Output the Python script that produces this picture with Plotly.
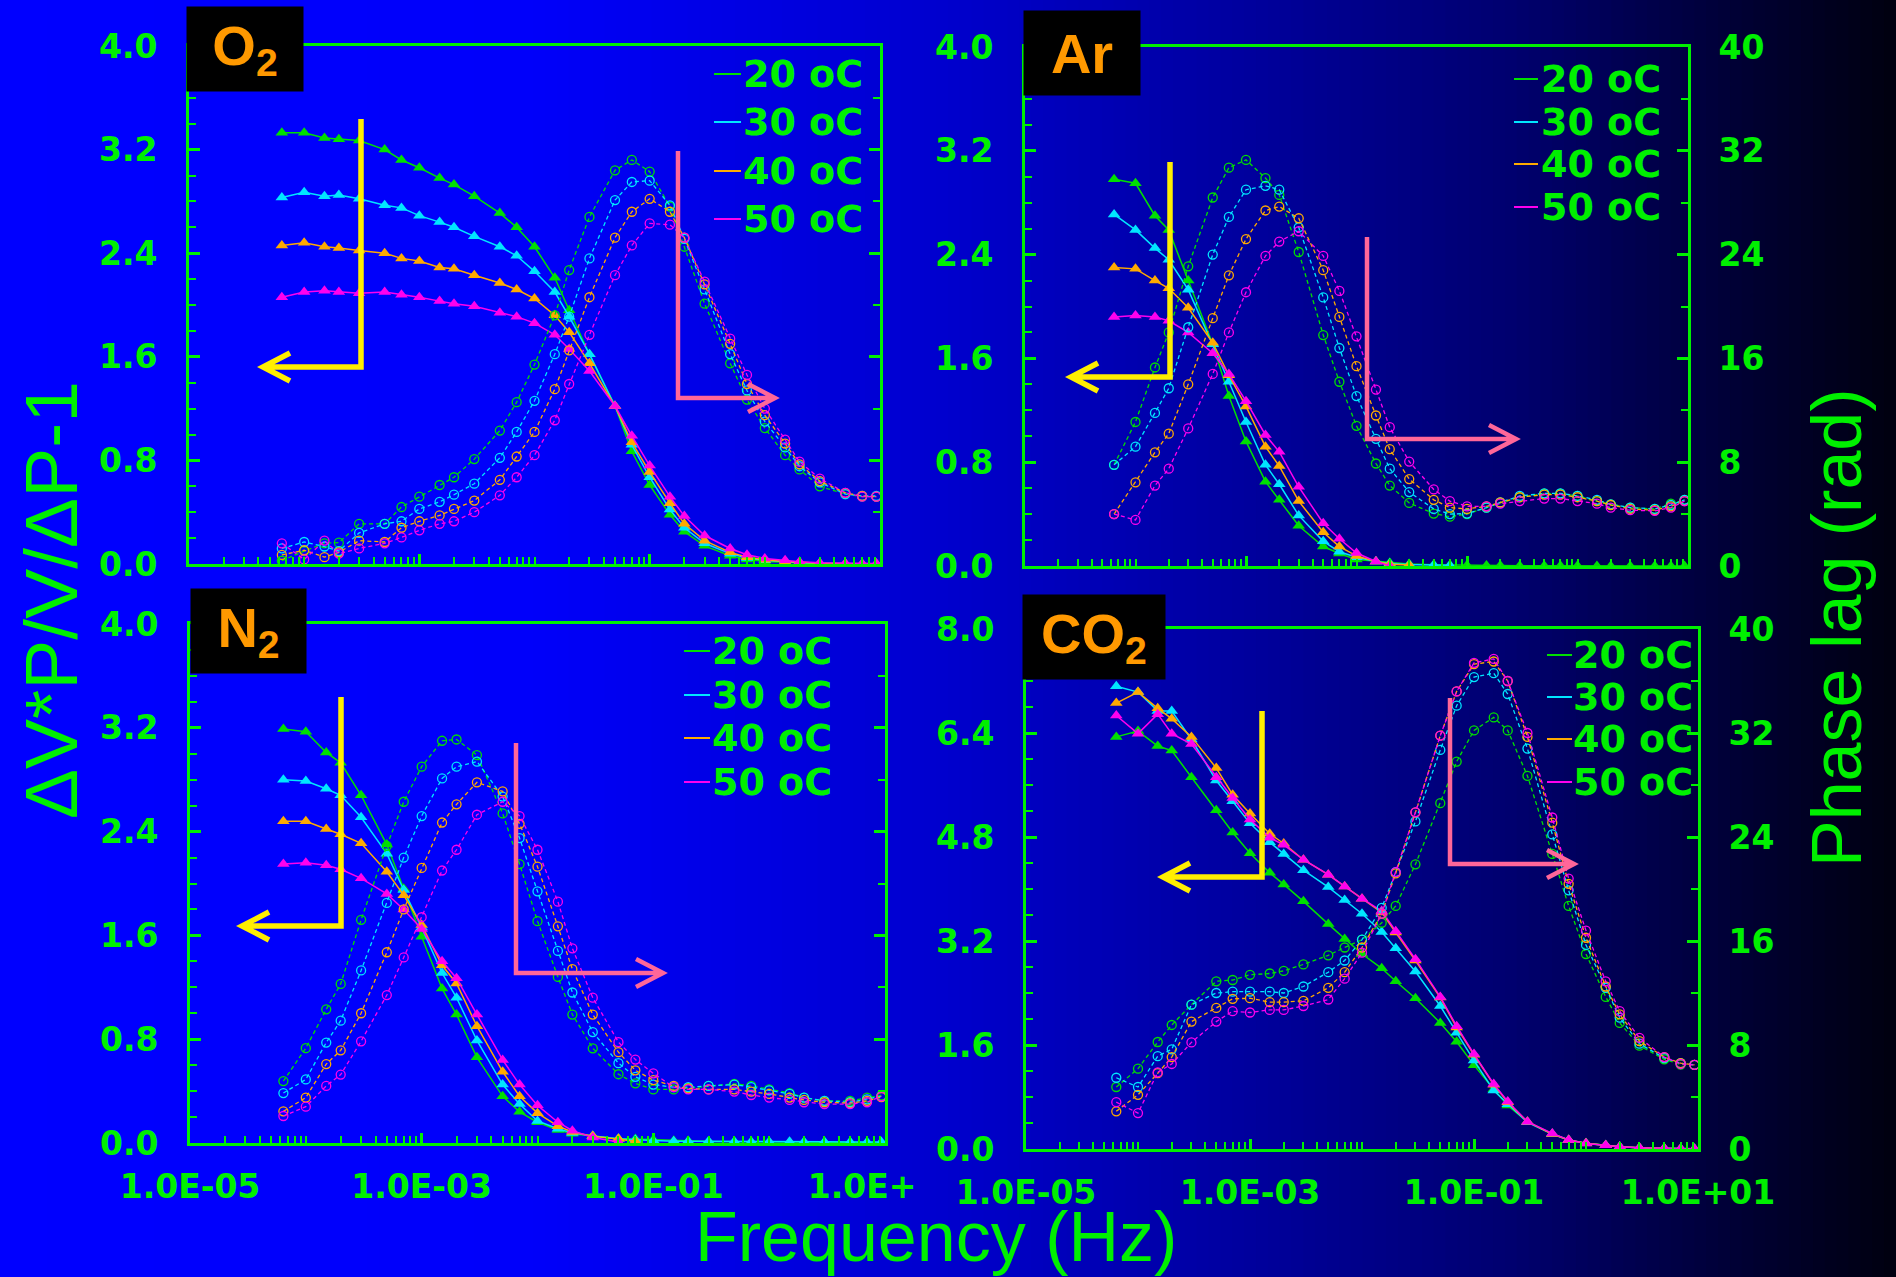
import plotly.graph_objects as go

W, H = 1896, 1277

# ---------------- data ----------------
FREQ = [6.4e-5, 1e-4, 1.5e-4, 2e-4, 3e-4, 5e-4, 7e-4, 1e-3, 1.5e-3, 2e-3, 3e-3, 5e-3,
        7e-3, 1e-2, 1.5e-2, 2e-2, 3e-2, 5e-2, 7e-2, 0.1, 0.15, 0.2, 0.3, 0.5, 0.7, 1,
        1.5, 2, 3, 5, 7, 9.3]

TEMPS = ["20 oC", "30 oC", "40 oC", "50 oC"]
GASES = ["O<sub>2</sub>", "Ar", "N<sub>2</sub>", "CO<sub>2</sub>"]

X_TICKS = [1e-5, 1e-3, 1e-1, 1e1]
X_TEXT_N2 = ["1.0E-05", "1.0E-03", "1.0E-01", "1.0E+\u00a0\u00a0\u00a0\u00a0"]
X_TEXT_CO2 = ["1.0E-05", "1.0E-03", "1.0E-01", "1.0E+01"]

# O2 : amplitude (left axis) and phase lag (right axis)
O2_AMP_20 = [3.33, 3.33, 3.29, 3.28, 3.27, 3.20, 3.12, 3.06, 2.98, 2.93, 2.84, 2.71, 2.60, 2.45, 2.21, 1.96,
             1.62, 1.22, 0.87, 0.61, 0.38, 0.25, 0.14, 0.064, 0.035, 0.02, 0.014, 0.007, 0.004, 0.002, 0.0, 0.0]
O2_AMP_30 = [2.83, 2.87, 2.84, 2.85, 2.82, 2.77, 2.75, 2.69, 2.64, 2.60, 2.53, 2.45, 2.38, 2.26, 2.10, 1.91,
             1.62, 1.22, 0.92, 0.67, 0.42, 0.28, 0.16, 0.08, 0.046, 0.028, 0.018, 0.01, 0.005, 0.002, 0.0, 0.0]
O2_AMP_40 = [2.46, 2.48, 2.45, 2.44, 2.42, 2.40, 2.36, 2.34, 2.29, 2.28, 2.23, 2.17, 2.12, 2.05, 1.92, 1.79,
             1.55, 1.22, 0.94, 0.71, 0.47, 0.31, 0.18, 0.09, 0.053, 0.032, 0.02, 0.012, 0.006, 0.002, 0.0, 0.0]
O2_AMP_50 = [2.06, 2.10, 2.11, 2.10, 2.09, 2.10, 2.08, 2.06, 2.03, 2.01, 1.99, 1.94, 1.91, 1.86, 1.77, 1.66,
             1.49, 1.22, 0.99, 0.76, 0.52, 0.37, 0.22, 0.12, 0.071, 0.043, 0.028, 0.018, 0.01, 0.006, 0.004, 0.004]
O2_PH_20 = [0.25, 1.0, 1.6, 1.65, 3.1, 3.1, 4.4, 5.2, 6.1, 6.7, 8.1, 10.3, 12.5, 15.4, 19.2, 22.7,
            26.8, 30.4, 31.2, 30.3, 27.6, 24.5, 20.1, 15.5, 12.7, 10.5, 8.4, 7.3, 6.0, 5.4, 5.2, 5.2]
O2_PH_30 = [1.2, 1.7, 1.35, 1.0, 2.4, 3.1, 3.3, 4.25, 4.8, 5.35, 6.2, 8.2, 10.2, 12.6, 16.2, 19.1,
            23.6, 28.1, 29.5, 29.6, 27.7, 25.1, 21.2, 16.2, 13.4, 11.0, 9.0, 7.55, 6.3, 5.4, 5.25, 5.25]
O2_PH_40 = [0.7, 1.06, 0.53, 0.9, 1.8, 1.7, 2.8, 3.3, 3.75, 4.25, 4.9, 6.5, 8.3, 10.2, 13.5, 16.5,
            20.6, 25.2, 27.2, 28.2, 27.2, 25.2, 21.6, 17.0, 13.9, 11.5, 9.3, 7.7, 6.4, 5.5, 5.25, 5.2]
O2_PH_50 = [1.6, 0.35, 1.8, 0.8, 1.2, 1.6, 2.05, 2.6, 3.1, 3.3, 4.0, 5.3, 6.7, 8.4, 11.1, 13.9,
            17.7, 22.3, 24.6, 26.3, 26.2, 25.2, 21.8, 17.4, 14.6, 12.0, 9.6, 7.9, 6.6, 5.5, 5.2, 5.2]

# Ar  (None = no point shown)
AR_AMP_20 = [2.98, 2.95, 2.70, 2.59, 2.20, 1.71, 1.31, 0.96, 0.65, 0.51, 0.31, 0.15, 0.096, 0.05, 0.035, 0.025,
             0.015, 0.01, 0.008, 0.005, 0.004, 0.003, 0.002, 0.002, 0.001, 0.001, 0.0, 0.0, 0.0, 0.0, 0.0, 0.0]
AR_AMP_30 = [2.71, 2.59, 2.45, 2.36, 2.13, 1.71, 1.42, 1.11, 0.78, 0.63, 0.39, 0.19, 0.11, 0.067, 0.035, 0.02,
             0.012, 0.008, 0.006, None, None, None, None, None, None, None, None, None, None, None, None, None]
AR_AMP_40 = [2.30, 2.29, 2.20, 2.14, 1.99, 1.72, 1.47, 1.23, 0.92, 0.77, 0.50, 0.26, 0.15, 0.078, 0.035, 0.014,
             0.008, None, None, None, None, None, None, None, None, None, None, None, None, None, None, None]
AR_AMP_50 = [1.92, 1.93, 1.92, 1.89, 1.80, 1.64, 1.48, 1.27, 1.01, 0.88, 0.61, 0.33, 0.21, 0.10, 0.035, 0.0,
             None, None, None, None, None, None, None, None, None, None, None, None, None, None, None, None]
AR_PH_20 = [7.8, 11.1, 15.3, 18.0, 23.1, 28.4, 30.7, 31.3, 29.9, 28.6, 24.2, 17.8, 14.2, 10.8, 7.9, 6.2,
            4.86, 4.04, 3.8, 4.0, 4.5, 4.86, 5.3, 5.57, 5.57, 5.4, 5.0, 4.75, 4.5, 4.4, 4.8, 5.1]
AR_PH_30 = [7.8, 9.2, 11.8, 13.7, 18.4, 24.0, 26.9, 29.0, 29.3, 29.0, 26.1, 20.7, 16.8, 13.1, 9.8, 7.5,
            5.7, 4.4, 4.0, 4.04, 4.5, 4.9, 5.4, 5.6, 5.6, 5.4, 5.1, 4.75, 4.5, 4.4, 4.7, 5.1]
AR_PH_40 = [4.0, 6.45, 8.76, 10.2, 14.0, 19.1, 22.4, 25.2, 27.4, 27.7, 26.8, 22.8, 19.2, 15.4, 11.6, 9.0,
            6.7, 5.1, 4.5, 4.4, 4.6, 4.9, 5.3, 5.5, 5.5, 5.3, 5.0, 4.7, 4.4, 4.3, 4.6, 5.0]
AR_PH_50 = [4.0, 3.55, 6.2, 7.5, 10.6, 14.8, 18.0, 21.1, 23.9, 25.0, 25.8, 23.9, 21.2, 17.7, 13.6, 10.7,
            8.05, 5.9, 5.0, 4.6, 4.6, 4.8, 5.0, 5.2, 5.2, 5.0, 4.8, 4.5, 4.3, 4.25, 4.5, 5.0]

# N2
N2_AMP_20 = [3.19, 3.17, 3.01, 2.93, 2.68, 2.30, 1.96, 1.59, 1.19, 0.99, 0.66, 0.36, 0.24, 0.16, 0.10, 0.071,
             0.053, 0.032, 0.03, 0.025, 0.018, 0.015, 0.012, 0.01, 0.01, 0.008, 0.008, 0.006, 0.006, 0.005, 0.004, 0.004]
N2_AMP_30 = [2.80, 2.79, 2.73, 2.68, 2.51, 2.23, 1.95, 1.66, 1.31, 1.12, 0.79, 0.45, 0.30, 0.17, 0.11, 0.078,
             0.053, 0.032, 0.025, 0.018, 0.014, 0.014, 0.014, 0.012, 0.01, 0.01, 0.01, 0.01, 0.01, 0.008, 0.008, 0.008]
N2_AMP_40 = [2.48, 2.48, 2.42, 2.38, 2.31, 2.09, 1.91, 1.68, 1.37, 1.23, 0.90, 0.55, 0.36, 0.23, 0.13, 0.085,
             0.053, 0.032, 0.014, None, None, None, None, None, None, None, None, None, None, None, None, None]
N2_AMP_50 = [2.15, 2.16, 2.14, 2.11, 2.04, 1.92, 1.80, 1.65, 1.40, 1.27, 0.99, 0.64, 0.45, 0.29, 0.16, 0.095,
             0.042, 0.007, None, None, None, None, None, None, None, None, None, None, None, None, None, None]
N2_PH_20 = [4.77, 7.31, 10.3, 12.26, 17.2, 22.9, 26.3, 29.0, 31.0, 31.1, 29.9, 25.4, 21.5, 17.1, 12.8, 9.9,
            7.3, 5.3, 4.6, 4.13, 4.13, 4.24, 4.4, 4.56, 4.4, 4.13, 3.85, 3.5, 3.25, 3.25, 3.5, 3.67]
N2_PH_30 = [3.85, 4.9, 7.74, 9.43, 13.3, 18.5, 22.0, 25.2, 28.1, 29.0, 29.4, 26.7, 23.5, 19.4, 14.8, 11.6,
            8.55, 6.15, 5.1, 4.5, 4.3, 4.3, 4.4, 4.5, 4.3, 4.06, 3.78, 3.5, 3.25, 3.14, 3.36, 3.6]
N2_PH_40 = [2.44, 3.5, 6.08, 7.14, 10.0, 14.7, 18.0, 21.2, 24.7, 26.1, 27.8, 27.1, 24.6, 21.3, 16.7, 13.4,
            9.9, 7.0, 5.6, 4.84, 4.4, 4.2, 4.13, 4.13, 3.96, 3.78, 3.5, 3.32, 3.14, 3.07, 3.25, 3.53]
N2_PH_50 = [2.08, 2.8, 4.4, 5.27, 7.84, 11.4, 14.3, 17.4, 21.0, 22.6, 25.3, 26.3, 25.2, 22.6, 18.6, 15.0,
            11.2, 7.77, 6.43, 5.37, 4.3, 4.13, 4.13, 3.96, 3.7, 3.5, 3.32, 3.14, 3.0, 3.0, 3.14, 3.6]

# CO2
CO2_AMP_20 = [6.34, 6.43, 6.20, 6.13, 5.72, 5.21, 4.87, 4.55, 4.25, 4.07, 3.81, 3.46, 3.23, 3.00, 2.78, 2.58,
              2.32, 1.94, 1.65, 1.29, 0.92, 0.67, 0.42, 0.23, 0.14, 0.085, 0.056, 0.035, 0.014, 0.01, 0.007, 0.005]
CO2_AMP_30 = [7.12, 7.03, 6.74, 6.74, 6.30, 5.67, 5.35, 5.01, 4.72, 4.54, 4.29, 4.03, 3.83, 3.62, 3.34, 3.09,
              2.73, 2.20, 1.79, 1.36, 0.90, 0.69, 0.41, 0.23, 0.14, 0.09, 0.056, 0.035, 0.02, 0.01, 0.005, 0.003]
CO2_AMP_40 = [6.86, 7.03, 6.78, 6.62, 6.34, 5.86, 5.45, 5.16, 4.85, 4.70, 4.45, 4.22, 4.04, 3.85, 3.64, 3.33,
              2.90, 2.33, 1.87, 1.45, 0.99, 0.72, 0.42, 0.23, 0.14, 0.09, 0.056, 0.035, 0.02, 0.01, 0.005, 0.0]
CO2_AMP_50 = [6.67, 6.39, 6.69, 6.39, 6.23, 5.72, 5.40, 5.07, 4.79, 4.68, 4.45, 4.22, 4.04, 3.85, 3.66, 3.35,
              2.92, 2.34, 1.89, 1.46, 1.00, 0.73, 0.42, 0.24, 0.14, 0.085, 0.056, 0.035, 0.02, 0.01, 0.005, 0.0]
CO2_PH_20 = [4.77, 6.18, 8.23, 9.54, 11.1, 12.9, 13.0, 13.4, 13.5, 13.7, 14.2, 14.9, 15.5, 16.1, 17.4, 18.7,
             21.9, 26.6, 29.8, 32.2, 33.2, 32.2, 28.7, 22.7, 18.7, 15.0, 11.7, 9.7, 7.95, 6.9, 6.5, 6.47]
CO2_PH_30 = [5.48, 4.77, 7.14, 7.67, 11.1, 12.0, 12.1, 12.1, 12.1, 12.0, 12.5, 13.6, 14.5, 16.1, 18.55, 21.3,
             25.2, 30.7, 34.1, 36.3, 36.6, 35.0, 30.8, 24.2, 19.9, 15.7, 12.4, 10.1, 8.1, 7.0, 6.6, 6.47]
CO2_PH_40 = [2.9, 4.17, 5.83, 7.07, 9.8, 10.85, 11.55, 11.6, 11.3, 11.3, 11.4, 12.4, 13.6, 15.5, 18.1, 21.2,
             25.9, 31.8, 35.2, 37.3, 37.5, 36.0, 31.7, 25.1, 20.4, 16.25, 12.5, 10.35, 8.3, 7.07, 6.6, 6.47]
CO2_PH_50 = [3.6, 2.76, 5.9, 6.54, 8.2, 9.8, 10.6, 10.5, 10.7, 10.7, 11.0, 11.5, 13.1, 15.1, 18.1, 21.3,
             25.9, 31.8, 35.2, 37.4, 37.7, 36.0, 32.0, 25.5, 20.8, 16.8, 12.9, 10.6, 8.55, 7.07, 6.54, 6.47]

# ---------------- style ----------------
GREEN = "#00F000"
SERIES_COLORS = ["#00E000", "#00E6FF", "#FFAA00", "#FF00EE"]
YELLOW = "#FFEE00"
PINK = "#FF6699"
ORANGE_TXT = "#FF9900"


def fx(px):
    return px / W


def fy(py):
    return 1 - py / H


panels = [
    dict(amp=[O2_AMP_20, O2_AMP_30, O2_AMP_40, O2_AMP_50], ph=[O2_PH_20, O2_PH_30, O2_PH_40, O2_PH_50],
         box=(189, 880, 46, 564), ymax=4.0, ydt=0.8, ymin=0.2, xlabels=None, rlabels=False,
         label_c=(245, 48.5), label_w=114,
         leg_line=(714, 741), leg_text=744, leg_rows=[74, 122, 171, 219],
         yarrow=[(361, 119), (361, 367), (263, 367)], parrow=[(678, 151), (678, 398), (775, 398)]),
    dict(amp=[AR_AMP_20, AR_AMP_30, AR_AMP_40, AR_AMP_50], ph=[AR_PH_20, AR_PH_30, AR_PH_40, AR_PH_50],
         box=(1025, 1688, 47, 566), ymax=4.0, ydt=0.8, ymin=0.2, xlabels=None, rlabels=True,
         label_c=(1082, 53), label_w=114,
         leg_line=(1514, 1538), leg_text=1542, leg_rows=[79, 122, 164, 207],
         yarrow=[(1170, 162), (1170, 377), (1071, 377)], parrow=[(1367, 237), (1367, 439), (1516, 439)]),
    dict(amp=[N2_AMP_20, N2_AMP_30, N2_AMP_40, N2_AMP_50], ph=[N2_PH_20, N2_PH_30, N2_PH_40, N2_PH_50],
         box=(190, 885, 624, 1143), ymax=4.0, ydt=0.8, ymin=0.2, xlabels=X_TEXT_N2, rlabels=False,
         label_c=(248.5, 631), label_w=113,
         leg_line=(684, 710), leg_text=713, leg_rows=[651, 695, 738, 782],
         yarrow=[(341, 697), (341, 926), (242, 926)], parrow=[(516, 743), (516, 973), (663, 973)]),
    dict(amp=[CO2_AMP_20, CO2_AMP_30, CO2_AMP_40, CO2_AMP_50], ph=[CO2_PH_20, CO2_PH_30, CO2_PH_40, CO2_PH_50],
         box=(1026, 1698, 629, 1149), ymax=8.0, ydt=1.6, ymin=0.4, xlabels=X_TEXT_CO2, rlabels=True,
         label_c=(1094, 636.5), label_w=140,
         leg_line=(1547, 1572), leg_text=1574, leg_rows=[655, 697, 739, 782],
         yarrow=[(1262, 711), (1262, 877), (1163, 877)], parrow=[(1450, 698), (1450, 864), (1574, 864)]),
]

MINOR_X = [m * 10.0 ** e for e in range(-5, 1) for m in range(2, 10)] + [1e-4, 1e-2, 1e0]
TICKFONT = dict(family="DejaVu Sans", size=33, color=GREEN, weight="bold")
LEGFONT = dict(family="DejaVu Sans", size=38, color=GREEN, weight="bold")

fig = go.Figure()
layout = dict(width=W, height=H, margin=dict(l=0, r=0, t=0, b=0, pad=0, autoexpand=False),
              paper_bgcolor="#0000FF", plot_bgcolor="rgba(0,0,0,0)", showlegend=False)
annotations = []
shapes = []

# background gradient (left bright blue -> right near black)
stops = [(0.0, 255), (0.28, 250), (0.5, 205), (0.65, 160), (0.8, 110), (0.9, 60), (1.0, 15)]


def blue_at(t):
    for (t0, b0), (t1, b1) in zip(stops[:-1], stops[1:]):
        if t <= t1:
            return b0 + (b1 - b0) * (t - t0) / (t1 - t0)
    return stops[-1][1]


NSTRIP = 160
for i in range(NSTRIP):
    t0, t1 = i / NSTRIP, (i + 1) / NSTRIP
    b = int(round(blue_at((t0 + t1) / 2)))
    shapes.append(dict(type="rect", xref="paper", yref="paper", x0=t0, x1=min(1.0, t1 + 0.002), y0=0, y1=1,
                       fillcolor=f"rgb(0,0,{b})", line=dict(width=0), layer="below"))

for k, p in enumerate(panels):
    xa = "x" if k == 0 else f"x{k + 1}"
    yl = "y" if k == 0 else f"y{2 * k + 1}"
    yr = f"y{2 * k + 2}"
    xkey = "xaxis" if k == 0 else f"xaxis{k + 1}"
    ylkey = "yaxis" if k == 0 else f"yaxis{2 * k + 1}"
    yrkey = f"yaxis{2 * k + 2}"
    l, r, t, b = p["box"]

    for i in range(4):
        c = SERIES_COLORS[i]
        fig.add_trace(go.Scatter(x=FREQ, y=p["ph"][i], mode="lines+markers", xaxis=xa, yaxis=yr,
                                 name=TEMPS[i], line=dict(color=c, width=1.3, dash="4px,3px"),
                                 marker=dict(symbol="circle-open", size=9, color=c, line=dict(width=1.3, color=c)),
                                 showlegend=False, cliponaxis=False, hoverinfo="skip"))
    for i in range(4):
        c = SERIES_COLORS[i]
        fig.add_trace(go.Scatter(x=FREQ, y=p["amp"][i], mode="lines+markers", xaxis=xa, yaxis=yl,
                                 name=TEMPS[i], line=dict(color=c, width=1.5),
                                 marker=dict(symbol="triangle-up", size=11, color=c, line=dict(width=0)),
                                 showlegend=False, cliponaxis=False, hoverinfo="skip"))

    # legend block: short coloured line + green label
    lx0, lx1 = p["leg_line"]
    for i, row in enumerate(p["leg_rows"]):
        shapes.append(dict(type="line", xref="paper", yref="paper", x0=fx(lx0), x1=fx(lx1),
                           y0=fy(row), y1=fy(row), line=dict(color=SERIES_COLORS[i], width=2), layer="above"))
        annotations.append(dict(x=fx(p["leg_text"] - 2), y=fy(row), xref="paper", yref="paper",
                                text=TEMPS[i], showarrow=False, xanchor="left", yanchor="middle",
                                font=LEGFONT, borderpad=0))

    xaxis = dict(type="log", range=[-5, 1], domain=[fx(l), fx(r)], anchor=yl, automargin=False,
                 showline=True, mirror=True, linecolor=GREEN, linewidth=3,
                 ticks="inside", ticklen=10, tickwidth=2.5, tickcolor=GREEN,
                 tickmode="array", tickvals=X_TICKS, showgrid=False, zeroline=False,
                 minor=dict(tickmode="array", tickvals=MINOR_X, ticks="inside", ticklen=7,
                            tickwidth=2, tickcolor=GREEN, showgrid=False),
                 tickfont=TICKFONT, ticklabelstandoff=12)
    if p["xlabels"] is None:
        xaxis["showticklabels"] = False
        xaxis["ticktext"] = ["1.0E-05", "1.0E-03", "1.0E-01", "1.0E+01"]
    else:
        xaxis["ticktext"] = p["xlabels"]
    layout[xkey] = xaxis

    layout[ylkey] = dict(domain=[fy(b), fy(t)], anchor=xa, range=[0, p["ymax"]], tick0=0, dtick=p["ydt"],
                         automargin=False, tickformat=".1f", showline=True, linecolor=GREEN, linewidth=3,
                         ticks="inside", ticklen=11, tickwidth=2.5, tickcolor=GREEN,
                         minor=dict(dtick=p["ymin"], ticks="inside", ticklen=7, tickwidth=2,
                                    tickcolor=GREEN, showgrid=False),
                         showgrid=False, zeroline=False, tickfont=TICKFONT, ticklabelstandoff=22)
    layout[yrkey] = dict(overlaying=yl, side="right", anchor=xa, range=[0, 40], tick0=0, dtick=8,
                         automargin=False, showline=True, linecolor=GREEN, linewidth=3,
                         ticks="inside", ticklen=11, tickwidth=2.5, tickcolor=GREEN,
                         minor=dict(dtick=4, ticks="inside", ticklen=7, tickwidth=2,
                                    tickcolor=GREEN, showgrid=False),
                         showgrid=False, zeroline=False, tickfont=TICKFONT, ticklabelstandoff=21,
                         showticklabels=p["rlabels"])

    # gas label box
    cx, cy = p["label_c"]
    annotations.append(dict(x=fx(cx), y=fy(cy), xref="paper", yref="paper", showarrow=False,
                            text=f"<b>{GASES[k]}</b>", bgcolor="#000000", width=p["label_w"], height=82,
                            font=dict(family="Liberation Sans", size=56, color=ORANGE_TXT),
                            xanchor="center", yanchor="middle"))

    # axis-indicator arrows
    for pts, col, lw in ((p["yarrow"], YELLOW, 5.5), (p["parrow"], PINK, 4.5)):
        (x0, y0), (x1, y1), (x2, y2) = pts
        d = 1 if x2 > x1 else -1
        path = (f"M {fx(x0)},{fy(y0)} L {fx(x1)},{fy(y1)} L {fx(x2)},{fy(y2)} "
                f"M {fx(x2 - d * 27)},{fy(y2 - 14)} L {fx(x2)},{fy(y2)} L {fx(x2 - d * 27)},{fy(y2 + 14)}")
        shapes.append(dict(type="path", xref="paper", yref="paper", path=path,
                           line=dict(color=col, width=lw), layer="above"))

# axis titles
TITLE_FONT = dict(family="Liberation Sans", size=70, color=GREEN)
annotations.append(dict(x=fx(51), y=fy(600), xref="paper", yref="paper", text="ΔV*P/V/ΔP-1",
                        textangle=-90, showarrow=False, font=dict(family="Liberation Sans", size=75, color=GREEN),
                        xanchor="center", yanchor="middle"))
annotations.append(dict(x=fx(1837), y=fy(628), xref="paper", yref="paper", text="Phase lag (rad)",
                        textangle=-90, showarrow=False, font=TITLE_FONT, xanchor="center", yanchor="middle"))
annotations.append(dict(x=fx(936), y=fy(1237), xref="paper", yref="paper", text="Frequency (Hz)",
                        showarrow=False, font=TITLE_FONT, xanchor="center", yanchor="middle"))

layout["annotations"] = annotations
layout["shapes"] = shapes
fig.update_layout(**layout)

fig.write_html("out.html", config={"displayModeBar": False},
               post_script="document.body.style.margin='0px';document.body.style.overflow='hidden';")
